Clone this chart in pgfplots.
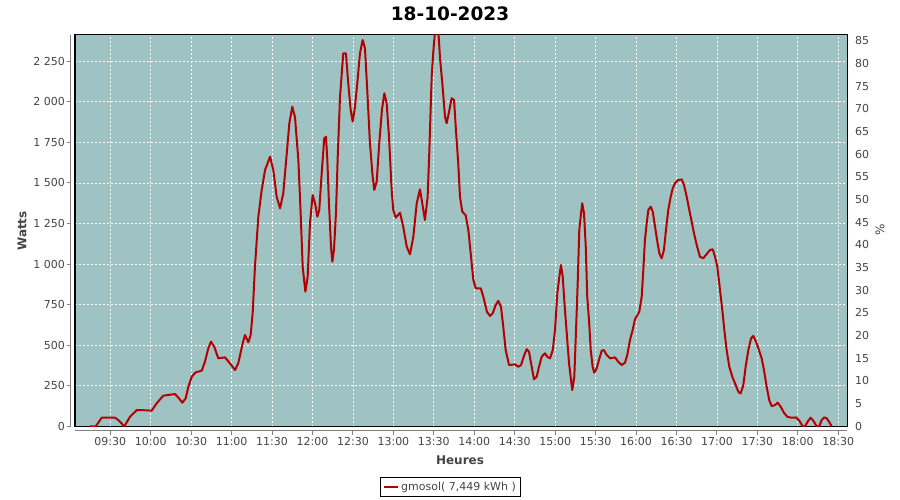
\documentclass[border=0pt]{standalone}
\usepackage{fontspec}
\setmainfont{DejaVu Sans}
\usepackage{pgfplots}
\pgfplotsset{compat=1.18}
\definecolor{bgc}{RGB}{159,195,194}
\definecolor{linec}{RGB}{180,0,0}
\definecolor{tickg}{RGB}{128,128,128}
\definecolor{labg}{RGB}{68,68,68}
\begin{document}
\begin{tikzpicture}
\path[use as bounding box] (-75pt,-73pt) rectangle (825pt,427pt);
\begin{axis}[
 scale only axis, width=772pt, height=392pt,
 at={(0pt,0pt)}, anchor=south west,
 xmin=543.8, xmax=1116.5, ymin=-4, ymax=2412,
 axis background/.style={fill=bgc},
 axis line style={black, line width=1pt},
 clip mode=individual,
 xtick={570,600,...,1110},
 xticklabels={09:30,10:00,10:30,11:00,11:30,12:00,12:30,13:00,13:30,14:00,14:30,15:00,15:30,16:00,16:30,17:00,17:30,18:00,18:30},
 ytick={0,250,...,2250},
 yticklabels={0,250,500,750,1~000,1~250,1~500,1~750,2~000,2~250},
 major tick length=0pt,
 grid=major,
 major grid style={white, dash pattern=on 2pt off 2pt, line width=0.8pt},
 tick label style={font=\fontsize{11}{13}\selectfont, text=labg, inner sep=0pt},
 yticklabel style={anchor=east, xshift=-10pt},
 xticklabel style={anchor=north, yshift=-10.5pt},
 legend style={at={(0.4864,-0.153)}, anchor=center, draw=black, fill=white,
   font=\fontsize{11}{13}\selectfont, text=labg, inner xsep=2.5pt, inner ysep=2.5pt},
 legend image code/.code={\draw[#1] (0pt,0pt) -- (14pt,0pt);},
]
\addplot[color=linec, line width=2pt, line join=round, mark=none] table {
554.9 0
559.2 0
563.6 53
573.5 53
575.9 39
580.4 0
584.6 59
589.6 100
593.3 100
600.7 97
604.4 142
609.3 189
618.0 199
621.0 172
623.4 146
625.9 172
627.9 244
630.4 306
633.3 333
637.8 343
640.2 398
642.7 481
644.7 522
647.1 491
650.1 419
655.1 425
658.8 388
662.5 347
664.9 388
668.2 512
669.9 563
672.4 518
674.1 563
675.6 697
677.3 984
679.8 1292
682.3 1457
684.8 1580
688.5 1662
690.9 1580
693.4 1415
695.9 1344
698.3 1436
700.9 1683
702.8 1868
705.0 1970
707.0 1905
709.5 1641
711.2 1313
712.7 984
714.7 830
716.4 922
718.1 1251
720.1 1426
721.9 1375
723.6 1292
725.0 1333
726.8 1560
728.7 1775
730.0 1785
731.0 1641
732.2 1375
733.7 1107
734.7 1015
735.9 1087
737.4 1313
738.7 1662
740.4 2032
742.8 2299
744.8 2299
746.5 2114
748.3 1950
749.8 1878
751.5 1970
753.2 2114
755.2 2299
757.2 2381
758.9 2330
760.6 2073
762.6 1744
764.6 1539
765.8 1457
767.6 1508
769.5 1744
771.5 1950
773.3 2053
775.0 1990
776.7 1790
777.5 1660
778.7 1457
779.9 1333
781.7 1286
784.9 1317
787.3 1230
789.9 1107
792.3 1060
794.8 1169
797.3 1375
799.7 1461
801.4 1375
803.4 1272
805.4 1415
806.6 1683
808.4 2155
809.6 2309
810.9 2440
813.3 2440
814.6 2268
816.3 2114
818.3 1908
819.5 1868
821.3 1939
823.2 2022
825.0 2011
826.4 1826
828.1 1621
829.4 1415
831.1 1323
833.6 1302
835.6 1210
837.6 1045
839.3 902
841.1 851
844.8 851
846.7 799
849.4 706
851.7 680
853.7 697
855.9 748
857.8 774
859.8 737
861.5 614
863.3 470
865.8 378
870.2 382
872.7 367
874.7 378
877.1 440
878.9 476
880.6 460
882.6 367
884.3 290
886.3 306
888.0 367
890.0 429
892.5 450
894.2 429
896.2 419
898.2 470
899.9 594
901.6 820
903.1 922
904.3 994
905.6 922
907.1 737
908.6 573
910.3 388
911.8 285
912.7 224
914.2 306
915.5 594
916.7 881
917.9 1210
919.2 1313
920.1 1375
921.4 1313
922.7 1107
923.8 799
925.1 655
926.4 470
927.8 367
929.0 330
930.8 357
932.5 409
934.5 466
936.2 470
938.2 440
940.7 419
944.4 425
946.8 398
949.4 378
951.8 392
953.5 440
955.5 532
957.5 594
959.2 660
962.4 706
964.2 799
965.4 964
966.6 1148
967.9 1251
969.1 1333
970.9 1354
972.4 1323
974.1 1230
975.8 1138
977.3 1066
979.0 1036
980.7 1087
982.2 1210
983.9 1333
985.7 1415
987.2 1467
988.9 1498
991.3 1518
993.9 1522
995.6 1487
997.6 1415
999.5 1333
1001.3 1261
1003.0 1190
1005.0 1118
1007.4 1045
1009.9 1036
1012.4 1062
1014.9 1087
1016.9 1091
1018.6 1045
1020.3 984
1022.3 840
1024.0 717
1025.5 594
1027.2 470
1029.2 367
1031.4 306
1033.9 255
1035.9 213
1037.6 203
1039.6 255
1041.3 367
1043.3 470
1045.3 542
1047.0 557
1049.0 522
1051.2 470
1053.2 419
1054.9 347
1056.9 244
1058.8 162
1060.6 125
1063.1 131
1065.1 146
1067.3 121
1069.7 84
1072.2 59
1075.5 53
1078.7 55
1081.1 35
1083.6 0
1085.3 0
1087.8 35
1089.5 53
1091.5 35
1094.0 0
1095.9 0
1097.7 39
1099.6 55
1101.4 50
1103.3 27
1105.1 0
};
\addlegendentry{gmosol( 7,449 kWh )}
\draw[tickg, line width=1pt] ([xshift=-4pt]rel axis cs:0,0) -- ([xshift=-4pt]rel axis cs:0,1);
\draw[tickg, line width=1pt] ([yshift=-4pt]rel axis cs:0,0) -- ([yshift=-4pt]rel axis cs:1,0);
\pgfplotsinvokeforeach{0,250,...,2250}{\draw[tickg, line width=1pt] ([xshift=-4pt]axis cs:543.8,#1) -- ([xshift=-8pt]axis cs:543.8,#1);}
\pgfplotsinvokeforeach{570,600,...,1110}{\draw[tickg, line width=1pt] ([yshift=-4pt]axis cs:#1,-4) -- ([yshift=-8pt]axis cs:#1,-4);}
\end{axis}
\begin{axis}[
 scale only axis, width=772pt, height=392pt,
 at={(0pt,0pt)}, anchor=south west,
 xmin=543.8, xmax=1116.5, ymin=-0.15, ymax=86.3,
 hide x axis, axis y line*=right,
 axis line style={black, line width=1pt},
 ytick={0,5,...,85}, major tick length=0pt,
 /pgf/number format/assume math mode=true,
 yticklabel style={anchor=west, xshift=8pt, font=\fontsize{11}{13}\selectfont, text=labg, inner sep=0pt},
]
\draw[tickg, line width=1pt] ([xshift=4pt]rel axis cs:1,0) -- ([xshift=4pt]rel axis cs:1,1);
\pgfplotsinvokeforeach{0,5,...,85}{\draw[tickg, line width=1pt] ([xshift=4pt]axis cs:1116.5,#1) -- ([xshift=7pt]axis cs:1116.5,#1);}
\end{axis}
\node[font=\bfseries\fontsize{18.5}{22}\selectfont] at (375pt,413pt) {18-10-2023};
\node[rotate=90, font=\bfseries\fontsize{12}{14}\selectfont, text=labg] at (-53pt,196pt) {Watts};
\node[rotate=90, font=\fontsize{12}{14}\selectfont, text=labg] at (805pt,197pt) {\%};
\node[font=\bfseries\fontsize{12}{14}\selectfont, text=labg] at (385pt,-33pt) {Heures};
\end{tikzpicture}
\end{document}
